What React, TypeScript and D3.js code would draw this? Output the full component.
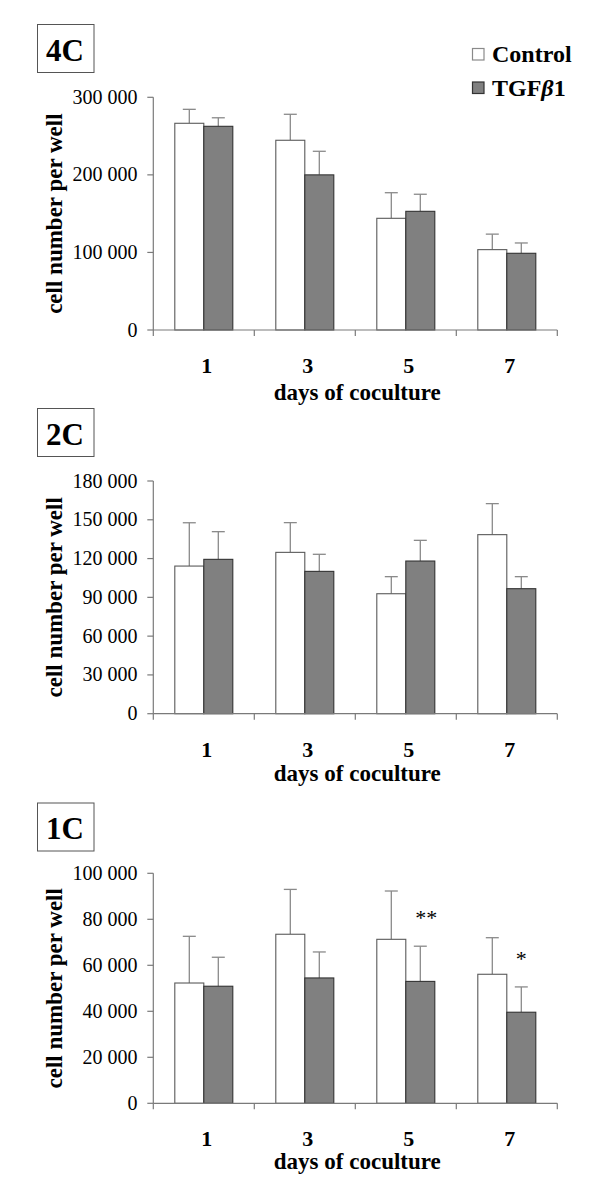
import React from "react";
import * as d3 from "d3";

// ---------- data ----------
const days = ["1", "3", "5", "7"];
const seriesNames = ["Control", "TGFβ1"];

const control4C = [266500, 244600, 144000, 103600];
const controlErr4C = [18000, 33500, 33000, 20000];
const tgf4C = [262600, 200000, 153000, 98900];
const tgfErr4C = [11000, 30400, 22000, 13300];
const ticks4C = [0, 100000, 200000, 300000];

const control2C = [114200, 124800, 92800, 138500];
const controlErr2C = [33500, 23000, 13200, 24000];
const tgf2C = [119400, 110100, 118100, 96700];
const tgfErr2C = [21400, 13200, 16000, 9300];
const ticks2C = [0, 30000, 60000, 90000, 120000, 150000, 180000];

const control1C = [52300, 73500, 71300, 56100];
const controlErr1C = [20300, 19500, 21000, 15900];
const tgf1C = [50900, 54500, 53000, 39600];
const tgfErr1C = [12600, 11300, 15300, 11000];
const ticks1C = [0, 20000, 40000, 60000, 80000, 100000];
const sig1C = ["", "", "**", "*"];

const xTitle = "days of coculture";
const yTitle = "cell number per well";

// ---------- layout ----------
const FONT = "Liberation Serif";
const X0 = 153.3;
const X1 = 557.3;

const panels = [
  { label: "4C", control: control4C, controlErr: controlErr4C, tgf: tgf4C, tgfErr: tgfErr4C, ticks: ticks4C, yTop: 97.3, yBase: 330, boxTop: 24, legend: true, titleGap: 70, sig: null as string[] | null },
  { label: "2C", control: control2C, controlErr: controlErr2C, tgf: tgf2C, tgfErr: tgfErr2C, ticks: ticks2C, yTop: 481, yBase: 713.7, boxTop: 408, legend: false, titleGap: 67, sig: null as string[] | null },
  { label: "1C", control: control1C, controlErr: controlErr1C, tgf: tgf1C, tgfErr: tgfErr1C, ticks: ticks1C, yTop: 873.3, yBase: 1103.3, boxTop: 802.5, legend: false, titleGap: 66, sig: sig1C },
];

const locale = d3.formatLocale({ decimal: ".", thousands: " ", grouping: [3], currency: ["", ""] });
const fmt = locale.format(",");

const CONTROL_FILL = "#ffffff";
const CONTROL_STROKE = "#5a5a5a";
const TGF_FILL = "#808080";
const TGF_STROKE = "#333333";
const AXIS = "#7a7a7a";
const ERR = "#8a8a8a";

const txt = (size: number, bold = false): React.CSSProperties => ({
  fontFamily: FONT,
  fontSize: size,
  fontWeight: bold ? "bold" : "normal",
});

function Panel({ p }: { p: (typeof panels)[number] }) {
  const x = d3.scaleBand<string>().domain(days).range([X0, X1]).padding(0);
  const bw = x.bandwidth();
  const groupW = 58;
  const xs = d3.scaleBand<string>().domain(seriesNames).range([0, groupW]).padding(0);
  const y = d3.scaleLinear().domain([0, p.ticks[p.ticks.length - 1]]).range([p.yBase, p.yTop]);
  const series = [
    { name: seriesNames[0], vals: p.control, errs: p.controlErr, fill: CONTROL_FILL, stroke: CONTROL_STROKE },
    { name: seriesNames[1], vals: p.tgf, errs: p.tgfErr, fill: TGF_FILL, stroke: TGF_STROKE },
  ];
  const boundaries = [...days.map((d) => x(d)!), X1];
  return (
    <g>
      {/* panel label box */}
      <rect x={37.5} y={p.boxTop + 0.5} width={56.5} height={48} fill="none" stroke="#555" strokeWidth={1} />
      <text x={65} y={p.boxTop + 36.5} textAnchor="middle" style={txt(31, true)} fill="#000">
        {p.label}
      </text>

      {/* bars */}
      {series.map((s) =>
        days.map((d, i) => {
          const bx = x(d)! + (bw - groupW) / 2 + xs(s.name)!;
          const w = xs.bandwidth();
          const top = y(s.vals[i]);
          const errTop = y(s.vals[i] + s.errs[i]);
          const cx = bx + w / 2;
          return (
            <g key={s.name + d}>
              <line x1={cx} x2={cx} y1={top} y2={errTop} stroke={ERR} strokeWidth={1.3} />
              <line x1={cx - 6.5} x2={cx + 6.5} y1={errTop} y2={errTop} stroke={ERR} strokeWidth={1.3} />
              <rect x={bx} y={top} width={w} height={p.yBase - top} fill={s.fill} stroke={s.stroke} strokeWidth={1.1} />
            </g>
          );
        })
      )}

      {/* significance */}
      {p.sig &&
        p.sig.map((lab, i) => {
          if (!lab) return null;
          const bx = x(days[i])! + (bw - groupW) / 2 + xs(seriesNames[1])!;
          const cx = bx + xs.bandwidth() / 2 + (lab.length > 1 ? 6 : 0);
          const errTop = y(p.tgf[i] + p.tgfErr[i]);
          return (
            <text key={"sig" + i} x={cx} y={errTop - 21} textAnchor="middle" style={txt(22)} fill="#000">
              {lab}
            </text>
          );
        })}

      {/* y axis */}
      <line x1={X0} x2={X0} y1={p.yTop} y2={p.yBase} stroke={AXIS} strokeWidth={1.2} />
      {p.ticks.map((t) => (
        <g key={"yt" + t}>
          <line x1={X0 - 6} x2={X0} y1={y(t)} y2={y(t)} stroke={AXIS} strokeWidth={1.2} />
          <text x={137.5} y={y(t) + 6.5} textAnchor="end" style={txt(20)} fill="#000">
            {fmt(t)}
          </text>
        </g>
      ))}
      <text
        transform={`translate(62,${(p.yTop + p.yBase) / 2}) rotate(-90)`}
        textAnchor="middle"
        style={txt(23, true)}
        fill="#000"
      >
        {yTitle}
      </text>

      {/* x axis */}
      <line x1={X0} x2={X1} y1={p.yBase} y2={p.yBase} stroke={AXIS} strokeWidth={1.2} />
      {boundaries.map((bxv, i) => (
        <line key={"xt" + i} x1={bxv} x2={bxv} y1={p.yBase} y2={p.yBase + 6} stroke={AXIS} strokeWidth={1.2} />
      ))}
      {days.map((d) => (
        <text key={"xl" + d} x={x(d)! + bw / 2 + 3} y={p.yBase + 43} textAnchor="middle" style={txt(22, true)} fill="#000">
          {d}
        </text>
      ))}
      <text x={(X0 + X1) / 2 + 2} y={p.yBase + p.titleGap} textAnchor="middle" style={txt(23, true)} fill="#000">
        {xTitle}
      </text>

      {/* legend */}
      {p.legend && (
        <g>
          <rect x={472.5} y={48.5} width={11.5} height={11.5} fill={CONTROL_FILL} stroke="#8a8a8a" strokeWidth={1.2} />
          <text x={492} y={62} style={txt(24, true)} fill="#000">
            {seriesNames[0]}
          </text>
          <rect x={472.5} y={82} width={11.5} height={11.5} fill={TGF_FILL} stroke={TGF_STROKE} strokeWidth={1.2} />
          <text x={492} y={96} style={txt(24, true)} fill="#000">
            TGF<tspan style={{ fontStyle: "italic" }}>β</tspan>1
          </text>
        </g>
      )}
    </g>
  );
}

export default function App() {
  return (
    <svg
      width={600}
      height={1200}
      viewBox="0 0 600 1200"
      style={{ position: "absolute", left: 0, top: 0, display: "block", background: "#fff" }}
    >
      <rect x={0} y={0} width={600} height={1200} fill="#fff" />
      {panels.map((p) => (
        <Panel key={p.label} p={p} />
      ))}
    </svg>
  );
}
